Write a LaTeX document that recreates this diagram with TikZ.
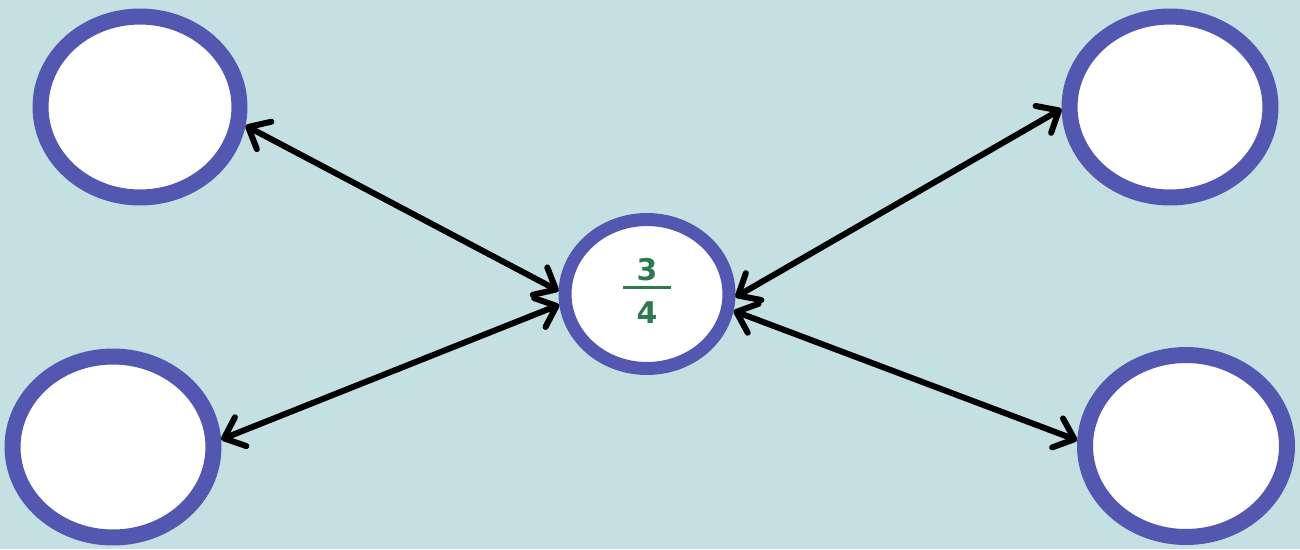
\documentclass[tikz,border=0pt]{standalone}
\usepackage{fontspec}
\setsansfont{DejaVu Sans}
\usetikzlibrary{shapes.geometric,arrows.meta}
\definecolor{bg}{HTML}{C4E0E2}
\definecolor{ring}{HTML}{5357B0}
\definecolor{fracgreen}{HTML}{2E7A4E}
\begin{document}
\begin{tikzpicture}[x=0.02cm,y=-0.02cm,
  bubble/.style={ellipse, draw=ring, fill=white, line width=0.32cm, inner sep=0pt},
  hub/.style={ellipse, draw=ring, fill=white, line width=0.26cm, inner sep=0pt,
    minimum width=3.28cm, minimum height=2.98cm},
  fractext/.style={font=\sffamily\bfseries\fontsize{17}{20}\selectfont, text=fracgreen, inner sep=0pt},
  barb/.tip={Straight Barb[length=0.36cm,width=0.62cm,round]},
  link/.style={line width=0.12cm, line cap=round, line join=round, barb-barb}]
\fill[bg] (0,0) rectangle (1300,549);
\useasboundingbox (0,0) rectangle (1300,549);
\node[bubble, minimum width=3.98cm, minimum height=3.62cm] (tl) at (140,107) {};
\node[bubble, minimum width=4.02cm, minimum height=3.62cm] (bl) at (113,447) {};
\node[bubble, minimum width=4.02cm, minimum height=3.62cm] (tr) at (1170,107) {};
\node[bubble, minimum width=4.04cm, minimum height=3.64cm] (br) at (1186,446) {};
\node[hub, label={[fractext, yshift=0.06cm]center:\vbox{\hbox to 0.96cm{\hss 3\hss}\kern 3pt\hrule height 1.7pt\kern 7pt\hbox to 0.96cm{\hss 4\hss}}}] (c) at (647,294) {};
\draw[link] (tl.-10) -- (c.178);
\draw[link] (bl.4) -- (c.187);
\draw[link] (tr.181) -- (c.-2);
\draw[link] (br.177) -- (c.-11);
\end{tikzpicture}
\end{document}
